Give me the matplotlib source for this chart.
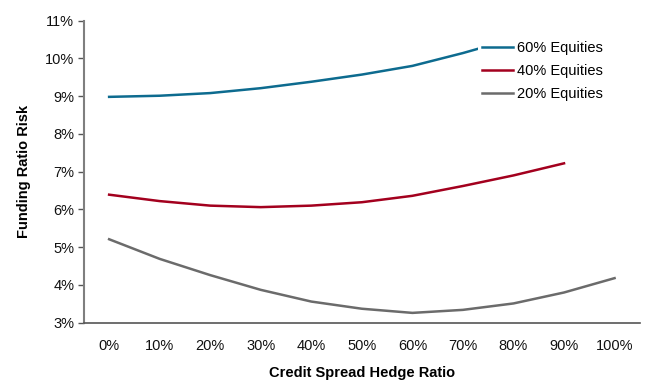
import matplotlib
matplotlib.use("Agg")
import matplotlib.pyplot as plt
from matplotlib.ticker import FuncFormatter

plt.rcParams['font.family'] = ['Liberation Sans', 'DejaVu Sans']

categories = ["0%", "10%", "20%", "30%", "40%", "50%", "60%", "70%", "80%", "90%", "100%"]
eq60 = [8.98, 9.01, 9.08, 9.21, 9.38, 9.57, 9.80, 10.14, 10.52]
eq40 = [6.39, 6.22, 6.10, 6.06, 6.10, 6.19, 6.36, 6.62, 6.90, 7.22]
eq20 = [5.21, 4.69, 4.26, 3.87, 3.56, 3.37, 3.26, 3.34, 3.51, 3.80, 4.18]
series_names = ["60% Equities", "40% Equities", "20% Equities"]
yticks = [3, 4, 5, 6, 7, 8, 9, 10, 11]

colors = ["#0d6b8f", "#a3001e", "#6b6b6b"]

fig = plt.figure(figsize=(6.45, 3.81), dpi=100)
ax = fig.add_axes([0.130, 0.153, 0.862, 0.793])

for vals, name, c in zip([eq60, eq40, eq20], series_names, colors):
    ax.plot(range(len(vals)), vals, color=c, lw=1.8, label=name, zorder=2)

ax.set_xlim(-0.5, len(categories) - 0.5)
ax.set_ylim(3, 11)
ax.set_yticks(yticks)
ax.yaxis.set_major_formatter(FuncFormatter(lambda v, p: f"{v:.0f}%"))
ax.set_xticks(range(len(categories)))
ax.set_xticklabels(categories)

for s in ["top", "right"]:
    ax.spines[s].set_visible(False)
ax.spines["left"].set_color("#7f7f7f")
ax.spines["left"].set_linewidth(1.5)
ax.spines["bottom"].set_color("#555555")
ax.spines["bottom"].set_linewidth(1.2)

ax.tick_params(axis="y", length=4, width=1, color="#555555", labelsize=10.5, pad=3, labelcolor="#111111")
ax.tick_params(axis="x", length=0, labelsize=10.5, pad=12, labelcolor="#111111")

ax.set_ylabel("Funding Ratio Risk", fontsize=10.5, fontweight="bold", labelpad=10)
ax.set_xlabel("Credit Spread Hedge Ratio", fontsize=10.5, fontweight="bold", labelpad=9)

leg = ax.legend(loc="upper left", bbox_to_anchor=(0.709, 0.947), frameon=True,
                fontsize=10.5, handlelength=2.13, handletextpad=0.27, labelspacing=0.62,
                borderpad=0.3, borderaxespad=0)
leg.get_frame().set_facecolor("white")
leg.get_frame().set_edgecolor("none")
leg.get_frame().set_alpha(1)
leg.set_zorder(5)

fig.savefig("out.png", dpi=100)
